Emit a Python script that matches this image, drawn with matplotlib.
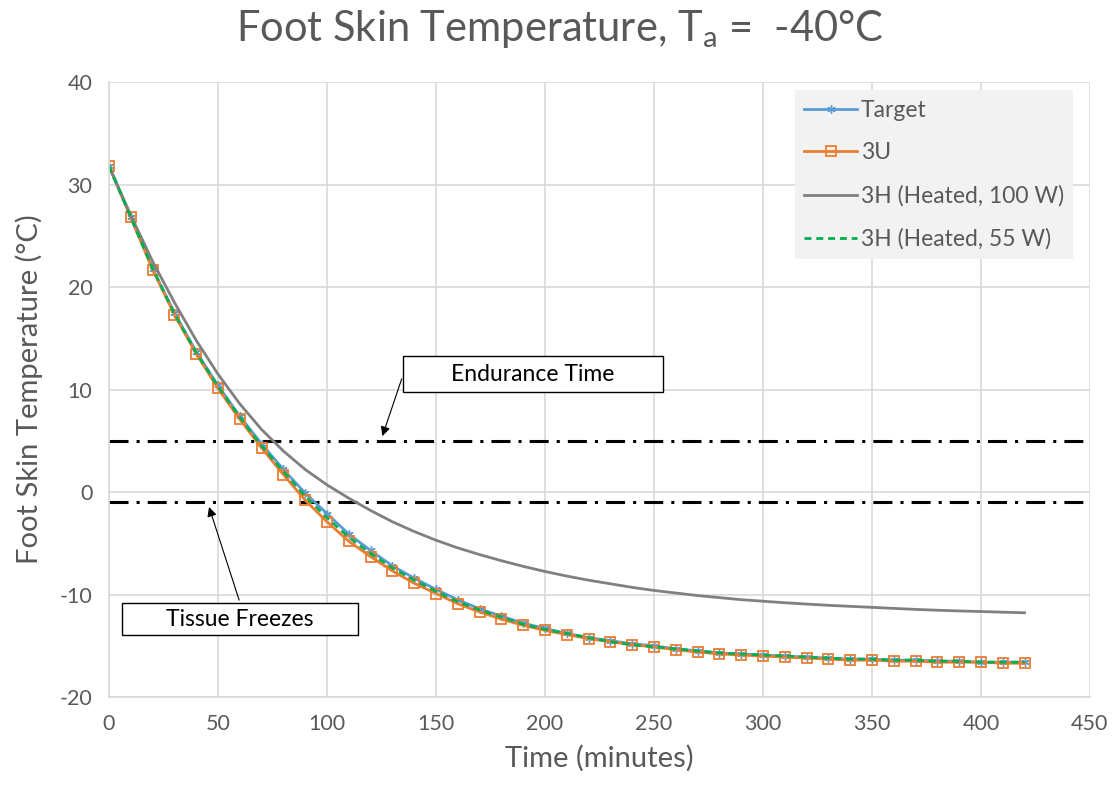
import numpy as np
import matplotlib
matplotlib.use("Agg")
import matplotlib.pyplot as plt
from matplotlib.patches import Rectangle

# time axis, minutes (every 10 min)
time_min = list(range(0, 430, 10))

target = [31.8, 26.8, 21.8, 17.5, 13.7, 10.4, 7.4, 4.7, 2.2, -0.1,
          -2.1, -4.1, -5.7, -7.2, -8.4, -9.5, -10.5, -11.4, -12.1, -12.8,
          -13.3, -13.8, -14.2, -14.5, -14.8, -15.0, -15.3, -15.5, -15.7, -15.8,
          -15.9, -16.0, -16.1, -16.2, -16.3, -16.3, -16.4, -16.4, -16.5, -16.5,
          -16.6, -16.6, -16.6]

u3 = [31.8, 26.8, 21.7, 17.3, 13.5, 10.1, 7.1, 4.3, 1.7, -0.8,
      -2.9, -4.8, -6.3, -7.7, -8.9, -9.9, -10.9, -11.7, -12.4, -13.0,
      -13.5, -13.9, -14.3, -14.6, -14.9, -15.1, -15.4, -15.6, -15.8, -15.9,
      -16.0, -16.1, -16.2, -16.3, -16.4, -16.4, -16.5, -16.5, -16.6, -16.6,
      -16.6, -16.7, -16.7]

h3_100w = [31.8, 27.0, 22.5, 18.5, 14.8, 11.5, 8.6, 6.1, 4.0, 2.2,
           0.7, -0.6, -1.8, -2.9, -3.85, -4.7, -5.45, -6.1, -6.7, -7.25,
           -7.75, -8.2, -8.6, -8.95, -9.3, -9.6, -9.85, -10.1, -10.3, -10.5,
           -10.65, -10.8, -10.93, -11.05, -11.15, -11.25, -11.35, -11.45, -11.53, -11.6,
           -11.66, -11.72, -11.78]

h3_55w = [31.8, 26.8, 21.8, 17.4, 13.6, 10.3, 7.3, 4.5, 2.0, -0.4,
          -2.5, -4.4, -6.0, -7.4, -8.6, -9.7, -10.7, -11.5, -12.2, -12.9,
          -13.4, -13.8, -14.2, -14.6, -14.9, -15.1, -15.3, -15.5, -15.7, -15.8,
          -15.9, -16.0, -16.1, -16.2, -16.3, -16.3, -16.4, -16.4, -16.5, -16.5,
          -16.6, -16.6, -16.6]

ENDURANCE_T = 5
FREEZE_T = -1

x_ticks = list(range(0, 451, 50))
y_ticks = list(range(-20, 41, 10))

GREY_TXT = "#595959"
plt.rcParams["font.family"] = ["Lato", "DejaVu Sans"]
plt.rcParams["lines.scale_dashes"] = False
plt.rcParams["axes.unicode_minus"] = False

fig = plt.figure(figsize=(11.19, 7.93), dpi=100)
ax = fig.add_axes([0.0974, 0.121, 0.8766, 0.7756])

ax.set_xlim(0, 450)
ax.set_ylim(-20, 40)
ax.set_xticks(x_ticks)
ax.set_yticks(y_ticks)
ax.grid(True, color="#d9d9d9", lw=1.2)
ax.set_axisbelow(True)
for s in ["top", "right"]:
    ax.spines[s].set_visible(False)
for s in ["left", "bottom"]:
    ax.spines[s].set_color("#d9d9d9")
    ax.spines[s].set_linewidth(1.2)
ax.tick_params(length=0, pad=12, labelsize=15.5, labelcolor=GREY_TXT)

# threshold lines
dd = (0, (13.7, 5.8, 2.2, 5.8))
ax.axhline(ENDURANCE_T, color="black", lw=2.2, linestyle=dd)
ax.axhline(FREEZE_T, color="black", lw=2.2, linestyle=dd)

ax.plot(time_min, target, color="#5b9bd5", lw=2, marker=(6, 2, 0),
        markersize=6, markeredgewidth=1, label="Target")
ax.plot(time_min, u3, color="#ed7d31", lw=2, marker="s", markersize=7,
        markerfacecolor="none", markeredgewidth=1.3, label="3U")
ax.plot(time_min, h3_100w, color="#808080", lw=2, label="3H (Heated, 100 W)")
ax.plot(time_min, h3_55w, color="#00b050", lw=2, linestyle=(0, (5, 3.5)),
        label="3H (Heated, 55 W)")

# annotation boxes
ax.add_patch(Rectangle((134.7, 9.8), 119.6, 3.45, facecolor="white",
                       edgecolor="black", lw=1, zorder=5))
ax.text(194.5, 11.5, "Endurance Time", ha="center", va="center",
        fontsize=16.5, color="black", zorder=6)
ax.annotate("", xy=(125, 5.2), xytext=(134.7, 11.3),
            arrowprops=dict(arrowstyle="-|>", color="black", lw=0.8,
                            mutation_scale=14), zorder=6)

ax.add_patch(Rectangle((5.8, -13.95), 108.6, 3.15, facecolor="white",
                       edgecolor="black", lw=1, zorder=5))
ax.text(60.1, -12.4, "Tissue Freezes", ha="center", va="center",
        fontsize=16.5, color="black", zorder=6)
ax.annotate("", xy=(45.5, -1.2), xytext=(60.1, -10.8),
            arrowprops=dict(arrowstyle="-|>", color="black", lw=0.8,
                            mutation_scale=14), zorder=6)

leg = ax.legend(loc="upper right", bbox_to_anchor=(0.985, 0.99),
                fontsize=16.5, frameon=True, fancybox=False, handlelength=2.3,
                labelspacing=0.95, borderpad=0.4, handletextpad=0.15,
                borderaxespad=0.1)
leg.get_frame().set_facecolor("#f2f2f2")
leg.get_frame().set_edgecolor("none")
leg.get_frame().set_alpha(1)
for t in leg.get_texts():
    t.set_color(GREY_TXT)

ax.set_xlabel("Time (minutes)", fontsize=21, color=GREY_TXT, labelpad=8)
ax.set_ylabel("Foot Skin Temperature (°C)", fontsize=21, color=GREY_TXT,
              labelpad=12)
fig.suptitle("Foot Skin Temperature, T$_\\mathregular{a}$ =  -40°C",
             fontsize=30, color=GREY_TXT, y=0.99)

fig.savefig("out.png", dpi=100)
